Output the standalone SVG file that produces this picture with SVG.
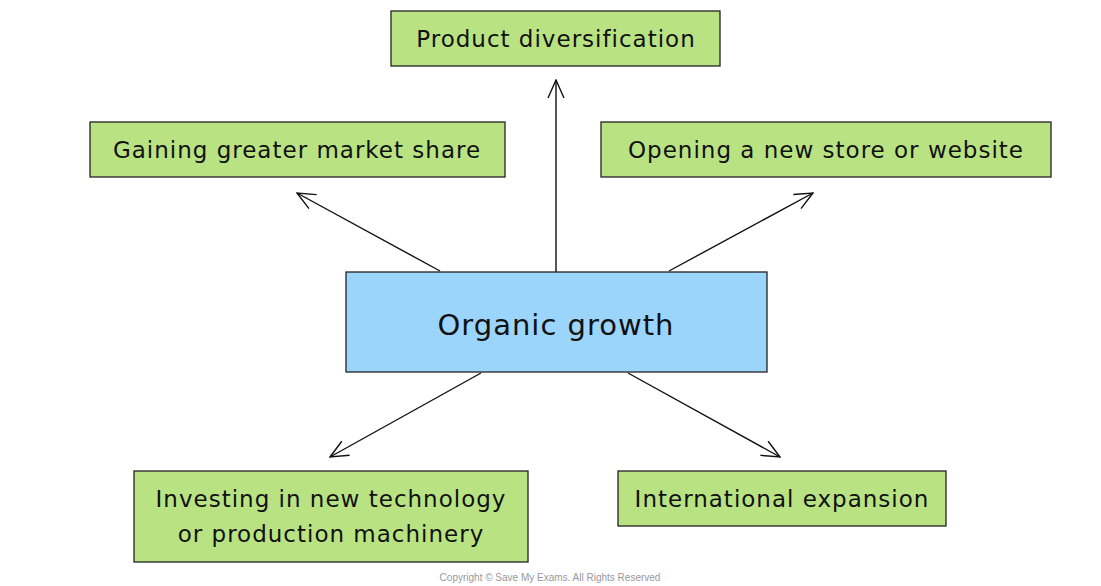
<svg xmlns="http://www.w3.org/2000/svg" width="1101" height="586" viewBox="0 0 1101 586">
<style>
.g{fill:#b9e383;stroke:#222;stroke-width:1.3}
.b{fill:#9cd5fb;stroke:#222;stroke-width:1.3}
text{font-family:"DejaVu Sans",sans-serif;fill:#111;text-anchor:middle;letter-spacing:1px}
.t{font-size:23px}
.c{stroke:#111;stroke-width:1.4;fill:none;marker-end:url(#a)}
</style>
<defs><marker id="a" viewBox="0 0 20 20" refX="19" refY="10" markerWidth="20" markerHeight="20" markerUnits="userSpaceOnUse" orient="auto"><path d="M1,2 L19,10 L1,18" fill="none" stroke="#111" stroke-width="1.4"/></marker></defs>
<rect width="1101" height="586" fill="#fff"/>
<g id="connectors">
<line class="c" x1="556" y1="272" x2="556" y2="80"/>
<line class="c" x1="440" y1="271" x2="297" y2="193"/>
<line class="c" x1="669" y1="271" x2="813" y2="193"/>
<line class="c" x1="481" y1="373" x2="330" y2="457"/>
<line class="c" x1="628" y1="373" x2="780" y2="457"/>
</g>
<g id="n1"><rect class="g" x="391" y="11" width="329" height="55"/><text class="t" x="556" y="47">Product diversification</text></g>
<g id="n2"><rect class="g" x="90" y="122" width="415" height="55"/><text class="t" x="297" y="158">Gaining greater market share</text></g>
<g id="n3"><rect class="g" x="601" y="122" width="450" height="55"/><text class="t" x="826" y="158">Opening a new store or website</text></g>
<g id="n0"><rect class="b" x="346" y="272" width="421" height="100"/><text x="556" y="335" font-size="29">Organic growth</text></g>
<g id="n4"><rect class="g" x="134" y="471" width="394" height="91"/><text class="t" x="331" y="507">Investing in new technology</text><text class="t" x="331" y="542">or production machinery</text></g>
<g id="n5"><rect class="g" x="618" y="471" width="328" height="55"/><text class="t" x="782" y="507">International expansion</text></g>
<text x="550" y="581" font-size="10" style="fill:#999;letter-spacing:0;font-family:'Liberation Sans',sans-serif">Copyright © Save My Exams. All Rights Reserved</text>
</svg>
